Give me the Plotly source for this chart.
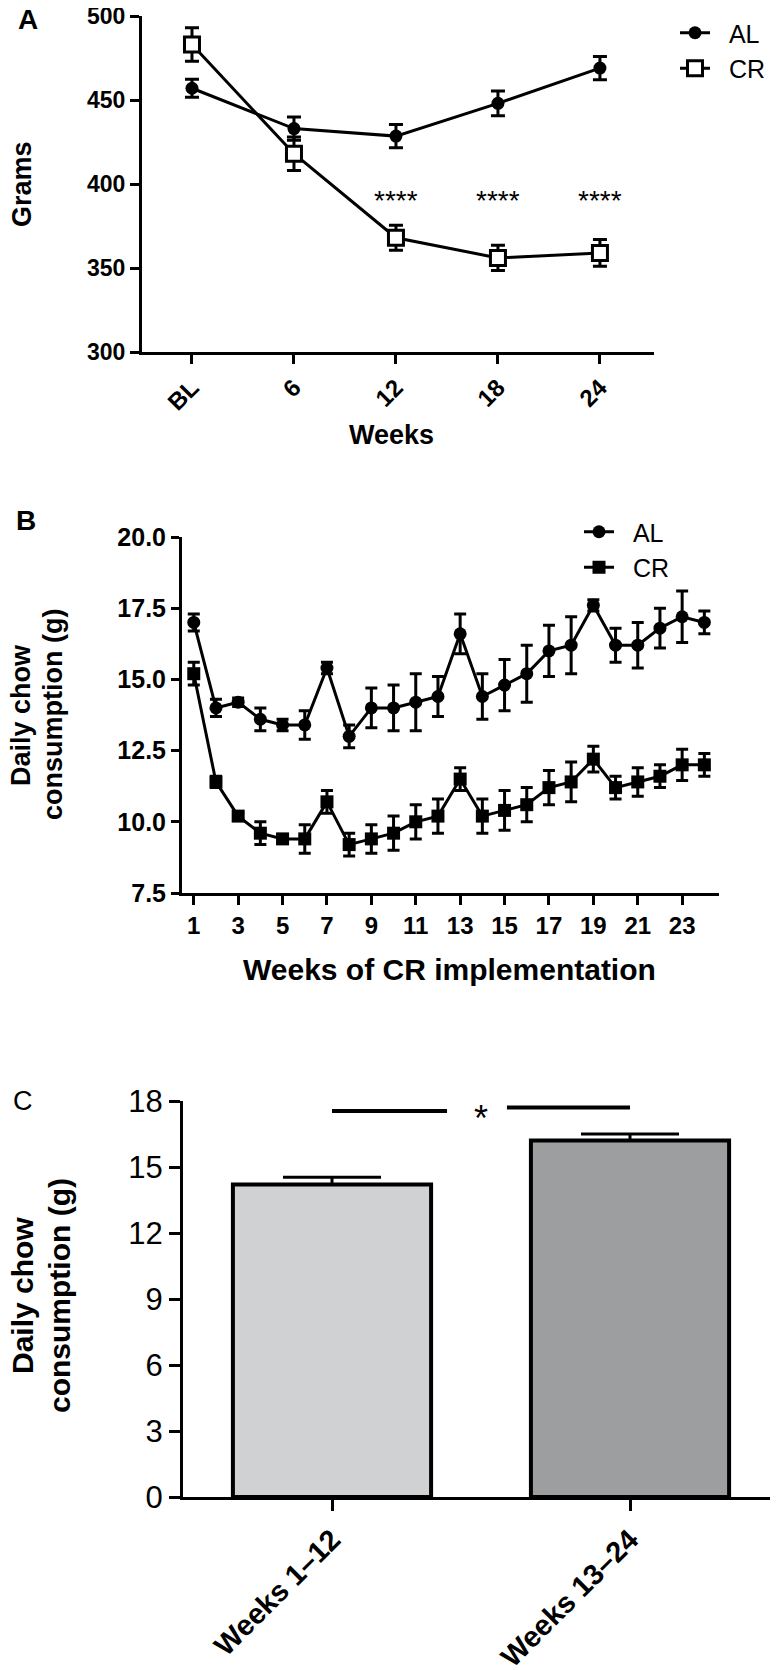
import plotly.graph_objects as go

# Panel A: body weight
weight_weeks = ["BL", "6", "12", "18", "24"]
al_weight = [457, 433, 428.5, 448, 469]
al_weight_err = [5.4, 6.9, 6.9, 7.4, 6.9]
cr_weight = [483, 418, 368, 356, 359]
cr_weight_err = [10, 10, 7.5, 7.5, 8]
stars_a = ["", "", "****", "****", "****"]

# Panel B: weekly chow intake
weeks = list(range(1, 25))
al_chow = [17.0, 14.0, 14.2, 13.6, 13.4, 13.4, 15.4, 13.0, 14.0, 14.0, 14.2, 14.4,
           16.6, 14.4, 14.8, 15.2, 16.0, 16.2, 17.6, 16.2, 16.2, 16.8, 17.2, 17.0]
al_chow_err = [0.3, 0.3, 0.15, 0.4, 0.2, 0.5, 0.2, 0.4, 0.7, 0.8, 1.0, 0.7,
               0.7, 0.8, 0.9, 1.0, 0.9, 1.0, 0.2, 0.6, 0.8, 0.7, 0.9, 0.4]
cr_chow = [15.2, 11.4, 10.2, 9.6, 9.4, 9.4, 10.7, 9.2, 9.4, 9.6, 10.0, 10.2,
           11.5, 10.2, 10.4, 10.6, 11.2, 11.4, 12.2, 11.2, 11.4, 11.6, 12.0, 12.0]
cr_chow_err = [0.4, 0.2, 0.1, 0.4, 0.15, 0.5, 0.4, 0.4, 0.5, 0.6, 0.6, 0.6,
               0.4, 0.6, 0.7, 0.6, 0.6, 0.7, 0.45, 0.4, 0.5, 0.4, 0.55, 0.4]

# Panel C: mean intake by period
periods = ["Weeks 1\u201312", "Weeks 13\u201324"]
period_mean = [14.2, 16.2]
period_err = [0.33, 0.3]
bar_colors = ["#d0d1d2", "#9d9ea0"]

W, H = 778, 1670
FONT = "Arial, Liberation Sans, sans-serif"
# the page body adds a small offset, compensate for it
OFF_X, OFF_Y = 1, 8
NB = "\u00a0\u00a0"


def px(x):
    return (x - OFF_X) / W


def py(y):
    return 1 - (y - OFF_Y) / H


fig = go.Figure()

# ---- A
xa = list(range(len(weight_weeks)))
fig.add_trace(go.Scatter(
    x=xa, y=al_weight, name=NB + "AL", mode="lines+markers", xaxis="x", yaxis="y",
    line=dict(color="black", width=3),
    marker=dict(symbol="circle", size=13, color="black"),
    error_y=dict(type="data", array=al_weight_err, color="black", thickness=3, width=7),
))
fig.add_trace(go.Scatter(
    x=xa, y=cr_weight, name=NB + "CR", mode="lines+markers", xaxis="x", yaxis="y",
    line=dict(color="black", width=3),
    marker=dict(symbol="square", size=15, color="white", line=dict(color="black", width=3)),
    error_y=dict(type="data", array=cr_weight_err, color="black", thickness=3, width=7),
))

# ---- B
fig.add_trace(go.Scatter(
    x=weeks, y=al_chow, name=NB + "AL", mode="lines+markers", xaxis="x2", yaxis="y2",
    legend="legend2",
    line=dict(color="black", width=3),
    marker=dict(symbol="circle", size=13, color="black"),
    error_y=dict(type="data", array=al_chow_err, color="black", thickness=3, width=6),
))
fig.add_trace(go.Scatter(
    x=weeks, y=cr_chow, name=NB + "CR", mode="lines+markers", xaxis="x2", yaxis="y2",
    legend="legend2",
    line=dict(color="black", width=3),
    marker=dict(symbol="square", size=13, color="black"),
    error_y=dict(type="data", array=cr_chow_err, color="black", thickness=3, width=6),
))

# ---- C
fig.add_trace(go.Bar(
    x=[0, 1], y=period_mean, xaxis="x3", yaxis="y3", width=0.665, showlegend=False,
    marker=dict(color=bar_colors, line=dict(color="black", width=4)),
    error_y=dict(type="data", symmetric=False, array=period_err, arrayminus=[0, 0],
                 color="black", thickness=3, width=49),
))
# significance bars
fig.add_trace(go.Scatter(x=[0, 0.386], y=[17.55, 17.55], mode="lines", xaxis="x3", yaxis="y3",
                         showlegend=False, line=dict(color="black", width=4)))
fig.add_trace(go.Scatter(x=[0.587, 1.0], y=[17.7, 17.7], mode="lines", xaxis="x3", yaxis="y3",
                         showlegend=False, line=dict(color="black", width=4)))

axis_common = dict(showline=True, linecolor="black", linewidth=3, ticks="outside",
                   tickcolor="black", tickwidth=3, showgrid=False, zeroline=False,
                   color="black", automargin=False, ticklabeloverflow="allow")

fig.update_layout(
    template="none",
    width=W, height=H, margin=dict(l=0, r=0, t=0, b=0, pad=0),
    paper_bgcolor="white", plot_bgcolor="white",
    font=dict(family=FONT, color="black"),
    xaxis=dict(axis_common, domain=[px(135), px(647)], range=[-0.49, 4.53],
               tickvals=xa, ticktext=weight_weeks, tickangle=-45, ticklen=9,
               tickfont=dict(size=24, family=FONT, weight="bold"), anchor="y"),
    yaxis=dict(axis_common, domain=[py(352), py(16)], range=[300, 500], dtick=50, ticklen=9,
               tickfont=dict(size=23, family=FONT, weight="bold"), anchor="x"),
    xaxis2=dict(axis_common, domain=[px(175), px(712)], range=[0.47, 24.66],
                tickvals=list(range(1, 24, 2)), ticklen=9,
                tickfont=dict(size=24, family=FONT, weight="bold"), anchor="y2"),
    yaxis2=dict(axis_common, domain=[py(893), py(537)], range=[7.5, 20], dtick=2.5,
                tickformat=".1f", ticklen=8,
                tickfont=dict(size=25, family=FONT, weight="bold"), anchor="x2"),
    xaxis3=dict(axis_common, domain=[px(176), px(772)], range=[-0.5, 1.5],
                tickvals=[0, 1], ticktext=periods, tickangle=-45, ticklen=11,
                tickfont=dict(size=29, family=FONT, weight="bold"), anchor="y3"),
    yaxis3=dict(axis_common, domain=[py(1497), py(1101)], range=[0, 18], dtick=3, ticklen=11,
                tickfont=dict(size=31, family=FONT), anchor="x3"),
    legend=dict(x=px(668), y=py(10), xanchor="left", yanchor="top",
                font=dict(size=25, family=FONT), bgcolor="rgba(0,0,0,0)"),
    legend2=dict(x=px(572), y=py(509), xanchor="left", yanchor="top",
                 font=dict(size=25, family=FONT), bgcolor="rgba(0,0,0,0)"),
)

ann = []
# panel letters
ann.append(dict(text="<b>A</b>", x=px(21), y=py(20), font=dict(size=28)))
ann.append(dict(text="<b>B</b>", x=px(19), y=py(520), font=dict(size=28)))
ann.append(dict(text="C", x=px(16), y=py(1101), font=dict(size=27)))
# axis titles
ann.append(dict(text="<b>Grams</b>", x=px(15), y=py(184), textangle=-90, font=dict(size=27)))
ann.append(dict(text="<b>Weeks</b>", x=px(384), y=py(435), font=dict(size=27)))
ann.append(dict(text="<b>Daily chow</b>", x=px(14), y=py(715), textangle=-90, font=dict(size=27)))
ann.append(dict(text="<b>consumption (g)</b>", x=px(46), y=py(715), textangle=-90,
                font=dict(size=27)))
ann.append(dict(text="<b>Weeks of CR implementation</b>", x=px(443), y=py(969),
                font=dict(size=30)))
ann.append(dict(text="<b>Daily chow</b>", x=px(15), y=py(1296), textangle=-90, font=dict(size=30)))
ann.append(dict(text="<b>consumption (g)</b>", x=px(52), y=py(1296), textangle=-90,
                font=dict(size=30)))
for a in ann:
    a.update(xref="paper", yref="paper", showarrow=False, xanchor="center", yanchor="middle")
    a["font"].update(family=FONT, color="black")

# significance stars
for i, s in enumerate(stars_a):
    if s:
        ann.append(dict(text=s, x=xa[i], y=390, xref="x", yref="y", showarrow=False,
                        font=dict(size=28, family=FONT, color="black")))
ann.append(dict(text="*", x=0.5, y=17.2, xref="x3", yref="y3", showarrow=False,
                font=dict(size=36, family=FONT, color="black")))

fig.update_layout(annotations=ann)
fig.write_html("out.html")
